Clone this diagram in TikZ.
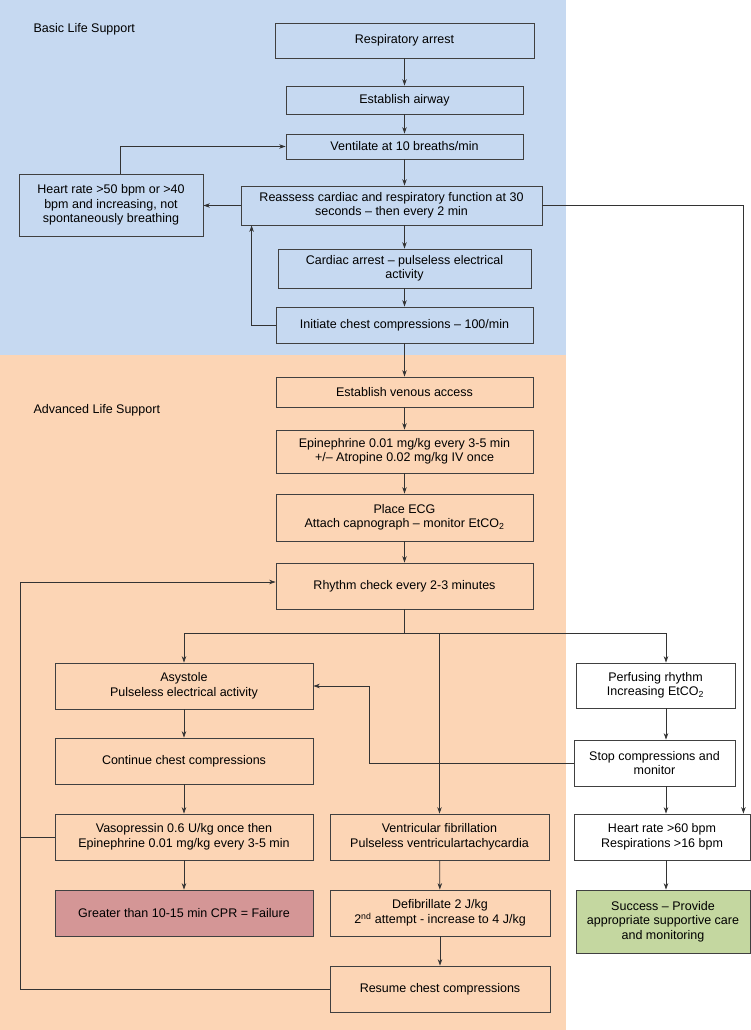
\documentclass[tikz,border=0pt]{standalone}
\usepackage{fontspec}
\setmainfont{Liberation Sans}
\usepackage{xcolor}
\usetikzlibrary{positioning, arrows.meta, calc}

\definecolor{blsblue}{RGB}{198,217,241}
\definecolor{alsorange}{RGB}{252,213,181}
\definecolor{failred}{RGB}{212,150,150}
\definecolor{okgreen}{RGB}{196,215,160}

\begin{document}
\begin{tikzpicture}[x=1pt, y=-1pt, >={Stealth[length=6.5pt,width=4.5pt]},
    every node/.style={font=\fontsize{12.5}{14.5}\selectfont},
    box/.style={draw=black!75, line width=0.8pt, align=center, inner sep=2pt},
    arr/.style={->, draw=black!80, line width=0.7pt},
    lin/.style={draw=black!80, line width=0.7pt}]
        % Backgrounds
        \useasboundingbox (0,0) rectangle (751,1030);
        \fill[blsblue] (0,0) rectangle (566,355);
        \fill[alsorange] (0,355) rectangle (566,1030);
        \node[anchor=west] (blslabel) at (30,29) {Basic Life Support};
        \node[anchor=west] (alslabel) at (30,410) {Advanced Life Support};

        % Basic life support column
        \node (resp) [box, fill=blsblue, minimum width=259, minimum height=35] at (404.5,40.5) {Respiratory arrest};
        \node (airway) [box, fill=blsblue, minimum width=237, minimum height=28] at (404.5,100) {Establish airway};
        \node (vent) [box, fill=blsblue, minimum width=237, minimum height=25] at (404.5,146.5) {Ventilate at 10 breaths/min};
        \node (reassess) [box, fill=blsblue, minimum width=301, minimum height=39] at (391.5,205.5) {Reassess cardiac and respiratory function at 30\\seconds -- then every 2 min};
        \node (hrlow) [box, fill=blsblue, minimum width=184, minimum height=62] at (111,205) {Heart rate >50 bpm or >40\\bpm and increasing, not\\spontaneously breathing};
        \node (cardiac) [box, fill=blsblue, minimum width=253, minimum height=39] at (404.5,268.5) {Cardiac arrest -- pulseless electrical\\activity};
        \node (compress) [box, fill=blsblue, minimum width=257, minimum height=36] at (404.5,325) {Initiate chest compressions -- 100/min};

        % Advanced life support column
        \node (venous) [box, fill=alsorange, minimum width=257, minimum height=30] at (404.5,392) {Establish venous access};
        \node (epi) [box, fill=alsorange, minimum width=257, minimum height=43] at (404.5,451.5) {Epinephrine 0.01 mg/kg every 3-5 min\\+/-- Atropine 0.02 mg/kg IV once};
        \node (ecg) [box, fill=alsorange, minimum width=257, minimum height=47] at (404.5,517.5) {Place ECG\\Attach capnograph -- monitor EtCO\textsubscript{2}};
        \node (rhythm) [box, fill=alsorange, minimum width=257, minimum height=46] at (404.5,586) {Rhythm check every 2-3 minutes};

        % Asystole branch
        \node (asys) [box, fill=alsorange, minimum width=258, minimum height=46] at (184,686) {Asystole\\Pulseless electrical activity};
        \node (contcpr) [box, fill=alsorange, minimum width=258, minimum height=46] at (184,761) {Continue chest compressions};
        \node (vaso) [box, fill=alsorange, minimum width=258, minimum height=46] at (184,837) {Vasopressin 0.6 U/kg once then\\Epinephrine 0.01 mg/kg every 3-5 min};
        \node (fail) [box, fill=failred, minimum width=258, minimum height=46] at (184,913) {Greater than 10-15 min CPR = Failure};

        % Fibrillation branch
        \node (vfib) [box, fill=alsorange, minimum width=219, minimum height=46] at (439.5,837) {Ventricular fibrillation\\Pulseless ventriculartachycardia};
        \node (defib) [box, fill=alsorange, minimum width=220, minimum height=46] at (440,913) {Defibrillate 2 J/kg\\2\textsuperscript{nd} attempt - increase to 4 J/kg};
        \node (resume) [box, fill=alsorange, minimum width=220, minimum height=46] at (440,989) {Resume chest compressions};

        % Perfusing branch
        \node (perf) [box, fill=white, minimum width=159, minimum height=45] at (655.5,685.5) {Perfusing rhythm\\Increasing EtCO\textsubscript{2}};
        \node (stopcpr) [box, fill=white, minimum width=161, minimum height=46] at (654.5,763) {Stop compressions and\\monitor};
        \node (hrhigh) [box, fill=white, minimum width=176, minimum height=46] at (662,837) {Heart rate >60 bpm\\Respirations >16 bpm};
        \node (success) [box, fill=okgreen, minimum width=174, minimum height=63] at (663,921.5) {Success -- Provide\\appropriate supportive care\\and monitoring};

        \coordinate (rcol) at (666,0);
        \coordinate (lx) at (20,0);

        % Main flow arrows
        \draw [arr] (resp) -- (airway);
        \draw [arr] (airway) -- (vent);
        \draw [arr] (vent.south) -- (vent.south |- reassess.north);
        \draw [arr] (reassess.south -| cardiac) -- (cardiac.north);
        \draw [arr] (cardiac) -- (compress);
        \draw [arr] (compress) -- (venous);
        \draw [arr] (venous) -- (epi);
        \draw [arr] (epi) -- (ecg);
        \draw [arr] (ecg) -- (rhythm);

        % Loops in basic life support
        \draw [arr] (reassess.west) -- (reassess.west -| hrlow.east);
        \draw [arr] ([xshift=9pt]hrlow.north) |- (vent.west);
        \draw [arr] (compress.west) -| ([xshift=11pt]reassess.south west);
        \draw [arr] (reassess.east) -| ([xshift=-7pt]hrhigh.north east);

        % Rhythm branches
        \draw [lin] (rhythm.south) -- ++(0,24) coordinate (br);
        \draw [arr] (br) -| (asys.north);
        \draw [arr] (br) -| (vfib.north);
        \draw [arr] (br) -| (perf.north -| rcol);

        \draw [arr] (asys) -- (contcpr);
        \draw [arr] (contcpr) -- (vaso);
        \draw [arr] (vaso) -- (fail);
        \draw [arr] (vfib) -- (defib);
        \draw [arr] (defib) -- (resume);

        \draw [arr] (perf.south -| rcol) -- (stopcpr.north -| rcol);
        \draw [arr] (stopcpr.south -| rcol) -- (hrhigh.north -| rcol);
        \draw [arr] (hrhigh.south -| rcol) -- (success.north -| rcol);
        \draw [arr] (stopcpr.west) -- ++(-204,0) |- (asys.east);

        % Return to rhythm check
        \draw [lin] (vaso.west) -- (vaso.west -| lx);
        \draw [arr] (resume.west) -- (resume.west -| lx) |- ([yshift=4pt]rhythm.west);
\end{tikzpicture}
\end{document}
